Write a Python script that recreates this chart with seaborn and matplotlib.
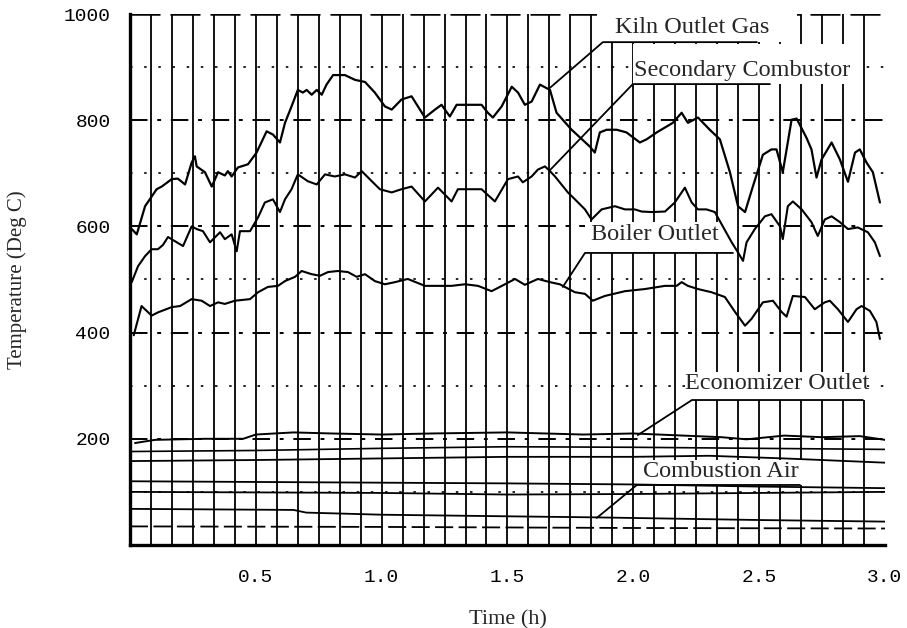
import numpy as np
import pandas as pd
import seaborn as sns
import matplotlib
matplotlib.use("Agg")
import matplotlib.pyplot as plt
from matplotlib.patches import Rectangle

# ---------------- data ----------------
kiln_t = [0.007, 0.027, 0.06, 0.106, 0.126, 0.166, 0.19, 0.219, 0.245, 0.258, 0.265, 0.298, 0.325, 0.35,
          0.377, 0.389, 0.404, 0.429, 0.469, 0.503, 0.543, 0.568, 0.596, 0.616, 0.642, 0.667, 0.687, 0.702,
          0.722, 0.742, 0.762, 0.781, 0.807, 0.821, 0.854, 0.894, 0.934, 0.973, 1.013, 1.04, 1.079, 1.119,
          1.172, 1.212, 1.238, 1.271, 1.298, 1.343, 1.397, 1.422, 1.442, 1.477, 1.517, 1.542, 1.569, 1.596,
          1.629, 1.669, 1.695, 1.755, 1.828, 1.847, 1.867, 1.894, 1.934, 1.973, 2.026, 2.053, 2.093, 2.157,
          2.192, 2.217, 2.257, 2.304, 2.344, 2.384, 2.416, 2.444, 2.475, 2.515, 2.549, 2.569, 2.594, 2.629,
          2.649, 2.688, 2.708, 2.728, 2.748, 2.788, 2.821, 2.853, 2.881, 2.9, 2.927, 2.952, 2.98]
kiln = [595, 585, 638, 670, 675, 689, 690, 679, 720, 732, 713, 702, 675, 702,
        696, 704, 694, 711, 717, 739, 779, 773, 758, 795, 826, 857, 852, 857,
        848, 857, 848, 867, 885, 885, 885, 876, 872, 852, 826, 820, 839, 845,
        805, 820, 829, 807, 829, 829, 829, 814, 805, 826, 863, 852, 829, 835,
        867, 857, 814, 782, 750, 739, 777, 782, 782, 777, 758, 764, 777, 795,
        814, 795, 805, 782, 764, 702, 638, 627, 675, 735, 745, 745, 702, 801,
        803, 767, 745, 692, 726, 758, 726, 684, 739, 745, 720, 702, 645]

sec_t = [0.007, 0.032, 0.06, 0.086, 0.111, 0.131, 0.151, 0.179, 0.211, 0.245, 0.265, 0.29, 0.318, 0.358,
         0.377, 0.404, 0.424, 0.437, 0.477, 0.509, 0.536, 0.568, 0.596, 0.616, 0.642, 0.667, 0.707, 0.742,
         0.775, 0.814, 0.854, 0.894, 0.921, 0.961, 0.993, 1.04, 1.079, 1.119, 1.172, 1.224, 1.278, 1.303,
         1.343, 1.397, 1.45, 1.502, 1.542, 1.561, 1.596, 1.621, 1.649, 1.669, 1.689, 1.74, 1.768, 1.808,
         1.834, 1.874, 1.927, 1.967, 2.006, 2.033, 2.073, 2.126, 2.165, 2.205, 2.232, 2.257, 2.291, 2.324,
         2.391, 2.416, 2.436, 2.45, 2.483, 2.523, 2.549, 2.583, 2.594, 2.614, 2.634, 2.669, 2.708, 2.733,
         2.761, 2.788, 2.821, 2.853, 2.892, 2.932, 2.96, 2.98]
sec = [495, 525, 544, 557, 557, 565, 580, 572, 563, 600, 595, 591, 570, 589,
       576, 585, 553, 591, 591, 617, 645, 651, 627, 651, 670, 698, 685, 679,
       698, 694, 698, 692, 704, 685, 670, 664, 670, 675, 647, 673, 647, 670,
       670, 670, 647, 689, 694, 683, 694, 707, 713, 704, 694, 664, 651, 632,
       613, 632, 638, 632, 632, 628, 627, 628, 645, 673, 645, 632, 632, 627,
       570, 551, 535, 570, 595, 619, 623, 600, 576, 638, 647, 632, 608, 582,
       613, 619, 608, 595, 598, 589, 570, 544]

boil_t = [0.015, 0.046, 0.086, 0.111, 0.166, 0.199, 0.245, 0.285, 0.318, 0.35, 0.377, 0.417, 0.477, 0.509,
          0.548, 0.588, 0.616, 0.656, 0.682, 0.722, 0.755, 0.787, 0.826, 0.866, 0.901, 0.934, 0.973, 1.013,
          1.053, 1.104, 1.172, 1.224, 1.278, 1.331, 1.383, 1.437, 1.49, 1.53, 1.569, 1.621, 1.669, 1.708,
          1.768, 1.808, 1.839, 1.887, 1.967, 2.046, 2.126, 2.172, 2.192, 2.217, 2.257, 2.311, 2.364, 2.404,
          2.444, 2.47, 2.515, 2.555, 2.589, 2.609, 2.634, 2.682, 2.721, 2.761, 2.781, 2.813, 2.853, 2.887,
          2.907, 2.94, 2.966, 2.98]
boil = [395, 450, 432, 438, 448, 450, 463, 460, 450, 457, 454, 460, 463, 476,
        486, 488, 497, 505, 516, 510, 507, 514, 516, 514, 505, 510, 497, 491,
        495, 501, 488, 488, 488, 491, 488, 478, 491, 501, 490, 501, 495, 491,
        476, 473, 460, 469, 478, 482, 488, 488, 495, 488, 482, 476, 467, 439,
        413, 426, 457, 460, 439, 430, 469, 467, 444, 457, 460, 444, 420, 444,
        450, 441, 420, 388]

econ_t = [0.02, 0.1, 0.3, 0.45, 0.5, 0.65, 0.8, 1.0, 1.2, 1.5, 1.8, 2.0, 2.2, 2.35, 2.45, 2.6, 2.75, 2.9, 3.0]
econ = [192, 198, 200, 200, 208, 212, 210, 208, 210, 212, 208, 210, 206, 203, 199, 206, 203, 205, 198]

trace_c_t = [0.0, 0.5, 1.0, 1.5, 2.0, 2.5, 3.0]
trace_c = [176, 178, 182, 185, 184, 182, 180]
trace_d_t = [0.0, 0.5, 1.0, 1.5, 2.0, 2.3, 2.6, 3.0]
trace_d = [158, 160, 163, 166, 166, 168, 163, 155]
trace_e_t = [0.0, 0.75, 1.5, 2.0, 2.5, 3.0]
trace_e = [120, 118, 116, 114, 110, 107]
trace_f_t = [0.0, 1.0, 1.5, 2.0, 2.5, 3.0]
trace_f = [100, 98, 95, 96, 98, 100]
comb_t = [0.0, 0.65, 0.7, 1.0, 1.5, 1.85, 2.5, 3.0]
comb = [68, 66, 61, 57, 54, 52, 47, 44]
trace_h_t = [0.0, 1.0, 2.0, 3.0]
trace_h = [35, 34, 32, 31]

x_ticks = [0.5, 1.0, 1.5, 2.0, 2.5, 3.0]
x_tick_labels = ["0.5", "1.0", "1.5", "2.0", "2.5", "3.0"]
y_ticks = [200, 400, 600, 800, 1000]
y_tick_labels = ["200", "400", "600", "800", "1000"]

labels = ["Kiln Outlet Gas", "Secondary Combustor", "Boiler Outlet", "Economizer Outlet", "Combustion Air"]

# ---------------- figure ----------------
sns.set_theme(style="white")
plt.rcParams["font.family"] = ["Liberation Serif", "DejaVu Serif"]

fig = plt.figure(figsize=(9.07, 6.28), dpi=100)
ax = fig.add_axes([0.1433, 0.1322, 0.8324, 0.8455])
ax.set_xlim(0, 3.0)
ax.set_ylim(0, 1000)

# chart-paper grid
for k in range(1, 36):
    ax.axvline(k / 12, color="black", lw=1.3, zorder=1)
for v in range(100, 1000, 100):
    if v % 200 == 0:
        ax.axhline(v, color="black", lw=1.4, ls=(0, (9, 5, 2, 5)), zorder=1)
    else:
        ax.axhline(v, color="black", lw=1.2, ls=(0, (1.5, 7)), zorder=1)
ax.axhline(1000, color="black", lw=1.8, ls=(0, (12, 4)), zorder=1)

# white label boxes (t0, t1, T0, T1)
boxes = [(1.855, 2.65, 947, 1000), (1.998, 2.888, 868, 943), (1.808, 2.396, 550, 608),
         (2.213, 2.928, 273, 326), (2.014, 2.682, 113, 160)]
for (t0, t1, v0, v1) in boxes:
    ax.add_patch(Rectangle((t0, v0), t1 - t0, v1 - v0, facecolor="white", edgecolor="none", zorder=2))

def draw(tt, vv, lw=1.5, ls="-"):
    df = pd.DataFrame({"t": tt, "v": vv})
    sns.lineplot(data=df, x="t", y="v", ax=ax, color="black", lw=lw, linestyle=ls,
                 sort=False, estimator=None, zorder=3)

draw(kiln_t, kiln, lw=1.6)
draw(sec_t, sec, lw=1.5)
draw(boil_t, boil, lw=1.5)
draw(econ_t, econ, lw=1.4)
draw(trace_c_t, trace_c, lw=1.2)
draw(trace_d_t, trace_d, lw=1.3)
draw(trace_e_t, trace_e, lw=1.3)
draw(trace_f_t, trace_f, lw=1.3)
draw(comb_t, comb, lw=1.3)
draw(trace_h_t, trace_h, lw=1.3, ls=(0, (10, 3)))

# labels with leader lines: (text t, text T, corner t, end t, line T, target t, target T)
ann = [
    (2.233, 974, 1.879, 2.491, 947, 1.669, 861),
    (2.431, 893, 1.998, 2.543, 868, 1.669, 706),
    (2.086, 584, 1.808, 2.396, 550, 1.720, 486),
    (2.571, 305, 2.233, 2.912, 273, 2.018, 207),
    (2.348, 139, 2.014, 2.662, 113, 1.855, 51),
]
for lab, (tx, ty, c0, c1, lv, gt, gv) in zip(labels, ann):
    ax.plot([gt, c0, c1], [gv, lv, lv], color="black", lw=1.3, zorder=4)
    ax.text(tx, ty, lab, ha="center", va="center", fontsize=17.5,
            family=["Liberation Serif"], zorder=5)

# axes styling
for s in ["top", "right"]:
    ax.spines[s].set_visible(False)
for s in ["left", "bottom"]:
    ax.spines[s].set_color("black")
    ax.spines[s].set_linewidth(2.4)

ax.set_xticks(x_ticks)
ax.set_xticklabels(x_tick_labels, family=["Liberation Mono"], fontsize=14)
ax.set_yticks(y_ticks)
ax.set_yticklabels(y_tick_labels, family=["Liberation Mono"], fontsize=14)
ax.tick_params(axis="x", direction="in", length=6, width=2.5, pad=17, colors="black")
ax.tick_params(axis="y", direction="in", length=12, width=2.5, pad=14, colors="black")

ax.set_xlabel("Time (h)", fontsize=16, family=["Liberation Serif"])
ax.set_ylabel("Temperature (Deg C)", fontsize=15, family=["Liberation Serif"])
ax.xaxis.set_label_coords(0.5006, -0.122)
ax.yaxis.set_label_coords(-0.137, 0.5)
ax.xaxis.label.set_va("top")

fig.savefig("out.png", dpi=100, facecolor="white")
